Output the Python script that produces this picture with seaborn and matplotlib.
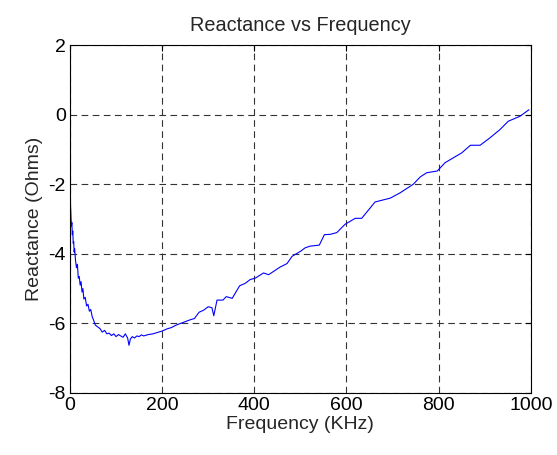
import matplotlib
matplotlib.use("Agg")
import matplotlib.pyplot as plt
import seaborn as sns
import pandas as pd

freq_khz = [1, 2, 3, 4, 5, 6, 7, 8, 9, 10, 12, 14, 16, 18, 20, 22, 24, 26, 28, 30,
            33, 36, 39, 42, 45, 48, 51, 55, 60, 65, 70, 75, 80, 85, 90, 95, 100, 105,
            110, 115, 120, 125, 128, 131, 135, 140, 145, 150, 155, 160, 170, 180, 190,
            200, 210, 220, 230, 240, 250, 260, 270, 280, 290, 300, 308, 312, 319, 332,
            339, 352, 368, 380, 391, 402, 420, 431, 456, 471, 482, 500, 510, 521, 541,
            552, 565, 579, 597, 619, 633, 662, 695, 716, 745, 760, 774, 797, 814, 832,
            850, 869, 890, 911, 933, 951, 976, 996]
reactance_ohms = [-2.55, -2.9, -3.2, -3.1, -3.45, -3.35, -3.7, -3.65, -3.95, -3.85,
                  -4.2, -4.4, -4.3, -4.7, -4.65, -4.9, -4.8, -5.1, -5.0, -5.3,
                  -5.25, -5.5, -5.45, -5.65, -5.6, -5.8, -5.9, -6.05, -6.1, -6.15,
                  -6.25, -6.2, -6.3, -6.28, -6.35, -6.3, -6.38, -6.32, -6.36, -6.4,
                  -6.3, -6.42, -6.63, -6.45, -6.38, -6.42, -6.36, -6.38, -6.33, -6.36,
                  -6.32, -6.3, -6.26, -6.22, -6.16, -6.12, -6.05, -6.0, -5.95, -5.9,
                  -5.86, -5.68, -5.62, -5.52, -5.55, -5.78, -5.33, -5.33, -5.23, -5.28,
                  -4.92, -4.85, -4.74, -4.7, -4.55, -4.6, -4.38, -4.28, -4.07, -3.93,
                  -3.83, -3.78, -3.75, -3.45, -3.44, -3.39, -3.15, -2.98, -2.98, -2.51,
                  -2.40, -2.25, -2.0, -1.79, -1.67, -1.62, -1.38, -1.24, -1.1, -0.88,
                  -0.88, -0.67, -0.43, -0.19, -0.05, 0.14]
x_ticks = [0, 200, 400, 600, 800, 1000]
y_ticks = [-8, -6, -4, -2, 0, 2]

sns.set_style("white")
plt.rcParams['font.family'] = ['Liberation Sans', 'DejaVu Sans']

df = pd.DataFrame({"f": freq_khz, "x": reactance_ohms})

fig = plt.figure(figsize=(5.57, 4.55), dpi=100)
ax = fig.add_axes([0.1257, 0.1363, 0.8273, 0.7647])
sns.lineplot(data=df, x="f", y="x", ax=ax, color="#0000ff", linewidth=0.8,
             sort=False, estimator=None)

ax.set_xlim(0, 1000)
ax.set_ylim(-8, 2)
ax.set_xticks(x_ticks)
ax.set_yticks(y_ticks)
ax.set_xticklabels([str(t) for t in x_ticks])
ax.set_yticklabels([str(t) for t in y_ticks])
ax.grid(True, color="#333333", linestyle=(0, (6, 4)), linewidth=0.8)
ax.tick_params(direction="in", length=4, width=0.8, top=True, right=True,
               labelsize=14, colors="black", pad=3)
for s in ax.spines.values():
    s.set_color("black")
    s.set_linewidth(0.8)
    s.set_visible(True)

ax.set_title("Reactance vs Frequency", fontsize=14.3, pad=10)
ax.set_xlabel("Frequency (KHz)", fontsize=14, labelpad=1)
ax.set_ylabel("Reactance (Ohms)", fontsize=14, labelpad=4)

fig.savefig("out.png", dpi=100, facecolor="white")
